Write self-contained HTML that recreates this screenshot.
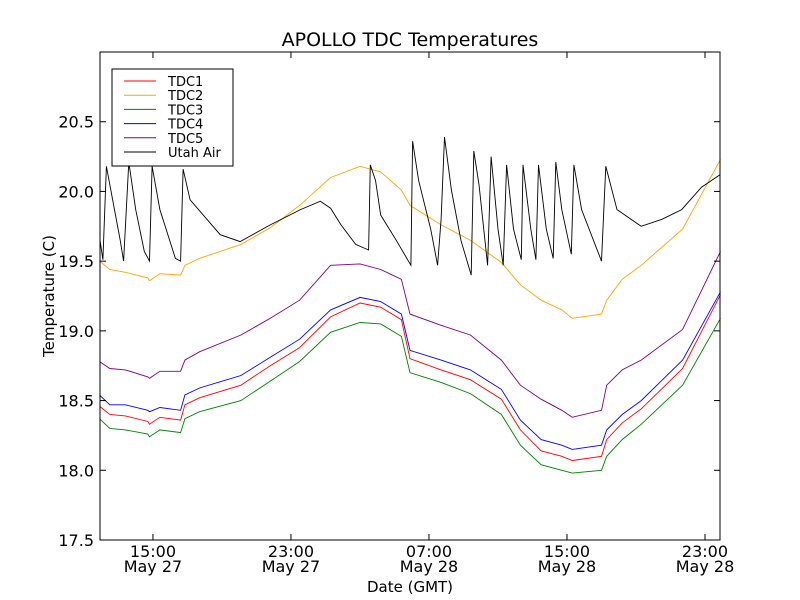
<!DOCTYPE html>
<html><head><meta charset="utf-8"><style>
html,body{margin:0;padding:0;background:#fff;width:800px;height:600px;overflow:hidden}
text{font-family:"DejaVu Sans","Liberation Sans",sans-serif;fill:#000}
</style></head><body>
<svg id="chart" width="800" height="600" xmlns="http://www.w3.org/2000/svg">
<rect width="800" height="600" fill="#fff"/>
<text x="410" y="46" font-size="19" text-anchor="middle">APOLLO TDC Temperatures</text>
<g id="plot"></g>
<rect x="100" y="52" width="620" height="488" fill="none" stroke="#000" stroke-width="1"/>
<g id="axes"></g>
<text x="410" y="592" font-size="15" text-anchor="middle">Date (GMT)</text>
<text transform="translate(54,296) rotate(-90)" font-size="15" text-anchor="middle">Temperature (C)</text>
<g>
<rect x="112" y="69" width="121" height="97" fill="#fff" stroke="#000" stroke-width="1"/>
</g>
<g id="legend"></g>
</svg>
<script>
const tTimes=[11.9,12.5,13.4,14.7,14.8,15.4,16.6,16.85,17.7,20.1,21.8,23.5,25.3,27.0,28.2,29.4,29.9,31.7,33.4,35.2,36.3,37.5,38.7,39.3,41.0,41.3,42.2,43.3,45.7,47.9];
const tdc1=[18.46,18.40,18.39,18.35,18.33,18.38,18.36,18.47,18.52,18.61,18.75,18.88,19.10,19.20,19.17,19.08,18.80,18.72,18.65,18.51,18.29,18.14,18.10,18.07,18.10,18.22,18.34,18.44,18.73,19.26];
const tdc2=[19.50,19.44,19.42,19.38,19.36,19.41,19.40,19.47,19.52,19.62,19.74,19.90,20.10,20.18,20.14,20.01,19.90,19.76,19.65,19.49,19.33,19.22,19.15,19.09,19.12,19.22,19.37,19.47,19.73,20.23];
const tdc3=[18.37,18.30,18.29,18.26,18.24,18.29,18.27,18.37,18.42,18.50,18.64,18.78,18.99,19.06,19.05,18.96,18.70,18.63,18.55,18.40,18.18,18.04,18.00,17.98,18.00,18.10,18.22,18.33,18.61,19.09];
const tdc4=[18.54,18.47,18.47,18.43,18.42,18.45,18.43,18.54,18.59,18.68,18.81,18.94,19.15,19.24,19.21,19.12,18.86,18.79,18.72,18.58,18.36,18.22,18.18,18.15,18.18,18.29,18.40,18.50,18.79,19.28];
const tdc5=[18.78,18.73,18.72,18.67,18.66,18.71,18.71,18.79,18.85,18.97,19.09,19.22,19.47,19.48,19.44,19.37,19.12,19.04,18.97,18.79,18.61,18.51,18.43,18.38,18.43,18.61,18.72,18.79,19.01,19.57];
const airTimes=[11.93,12.1,12.3,12.6,13.1,13.3,13.6,14.0,14.5,14.8,14.95,15.4,16.3,16.6,16.75,17.15,18.9,20.05,21.8,23.55,24.7,25.3,25.9,26.75,27.5,27.6,27.9,28.2,29.1,29.95,30.05,30.4,31.1,31.5,31.7,31.9,32.3,32.85,33.45,33.6,33.9,34.4,34.6,35.0,35.3,35.5,35.9,36.35,36.45,36.9,37.2,37.35,37.8,38.2,38.35,38.7,39.25,39.4,39.85,41.0,41.25,41.9,43.3,44.5,45.65,46.8,47.87];
const airVals=[19.65,19.51,20.18,19.98,19.65,19.50,20.21,19.87,19.57,19.50,20.18,19.87,19.52,19.50,20.16,19.94,19.69,19.64,19.76,19.87,19.93,19.88,19.76,19.62,19.58,20.19,20.08,19.83,19.65,19.47,20.36,20.08,19.73,19.47,19.80,20.39,20.01,19.65,19.40,20.29,20.05,19.47,20.25,19.73,19.47,20.19,19.73,19.51,20.19,19.73,19.51,20.19,19.73,19.52,20.21,19.87,19.55,20.19,19.87,19.50,20.18,19.87,19.75,19.80,19.87,20.03,20.12];
const yTicks=[17.5,18.0,18.5,19.0,19.5,20.0,20.5];
const xTickHours=[15,23,31,39,47];
const xTickTimes=["15:00","23:00","07:00","15:00","23:00"];
const xTickDates=["May 27","May 27","May 28","May 28","May 28"];
const seriesNames=["TDC1","TDC2","TDC3","TDC4","TDC5","Utah Air"];
const seriesColors=["#ff0000","#ffa500","#008000","#0000ff","#800080","#000000"];

const X0=100,X1=720,Y0=540,Y1=52,TMIN=11.93,TMAX=47.87,VMIN=17.5,VMAX=21.0;
const xs=t=>X0+(t-TMIN)/(TMAX-TMIN)*(X1-X0);
const ys=v=>Y0-(v-VMIN)/(VMAX-VMIN)*(Y0-Y1);
const NS="http://www.w3.org/2000/svg";
const plot=document.getElementById('plot'),axes=document.getElementById('axes'),legend=document.getElementById('legend');
function mk(tag,attrs,parent){const e=document.createElementNS(NS,tag);for(const k in attrs)e.setAttribute(k,attrs[k]);parent.appendChild(e);return e;}
function line(times,vals,color,name){
  const d=times.map((t,i)=>(i?'L':'M')+xs(t).toFixed(1)+','+ys(vals[i]).toFixed(1)).join('');
  const p=mk('path',{d:d,fill:'none',stroke:color,'stroke-width':0.9},plot);
  
  
}
line(tTimes,tdc2,seriesColors[1],'tdc2-line');
line(tTimes,tdc5,seriesColors[4],'tdc5-line');
line(tTimes,tdc3,seriesColors[2],'tdc3-line');
line(tTimes,tdc1,seriesColors[0],'tdc1-line');
line(tTimes,tdc4,seriesColors[3],'tdc4-line');
line(airTimes,airVals,seriesColors[5],'utah-air-line');
yTicks.forEach(v=>{
  const y=ys(v);
  mk('line',{x1:X0,x2:X0+6,y1:y,y2:y,stroke:'#000'},axes);
  mk('line',{x1:X1,x2:X1-6,y1:y,y2:y,stroke:'#000'},axes);
  const t=mk('text',{x:X0-6,y:y+6,'font-size':16,'text-anchor':'end'},axes);
  t.textContent=v.toFixed(1);
  
  
});
xTickHours.forEach((h,i)=>{
  const x=xs(h);
  mk('line',{x1:x,x2:x,y1:Y0,y2:Y0-6,stroke:'#000'},axes);
  mk('line',{x1:x,x2:x,y1:Y1,y2:Y1+6,stroke:'#000'},axes);
  const t=mk('text',{x:x,y:557,'font-size':16,'text-anchor':'middle'},axes);
  t.textContent=xTickTimes[i];
  
  
  const d=mk('text',{x:x,y:572,'font-size':16,'text-anchor':'middle'},axes);
  d.textContent=xTickDates[i];
  
  
});
seriesNames.forEach((n,i)=>{
  const y=81+i*14.2;
  const g=mk('g',{},legend);
  
  
  mk('line',{x1:124,x2:156,y1:y,y2:y,stroke:seriesColors[i],'stroke-width':1},g);
  const t=mk('text',{x:168,y:y+5,'font-size':13},g);
  t.textContent=n;
});
</script>
</body></html>
